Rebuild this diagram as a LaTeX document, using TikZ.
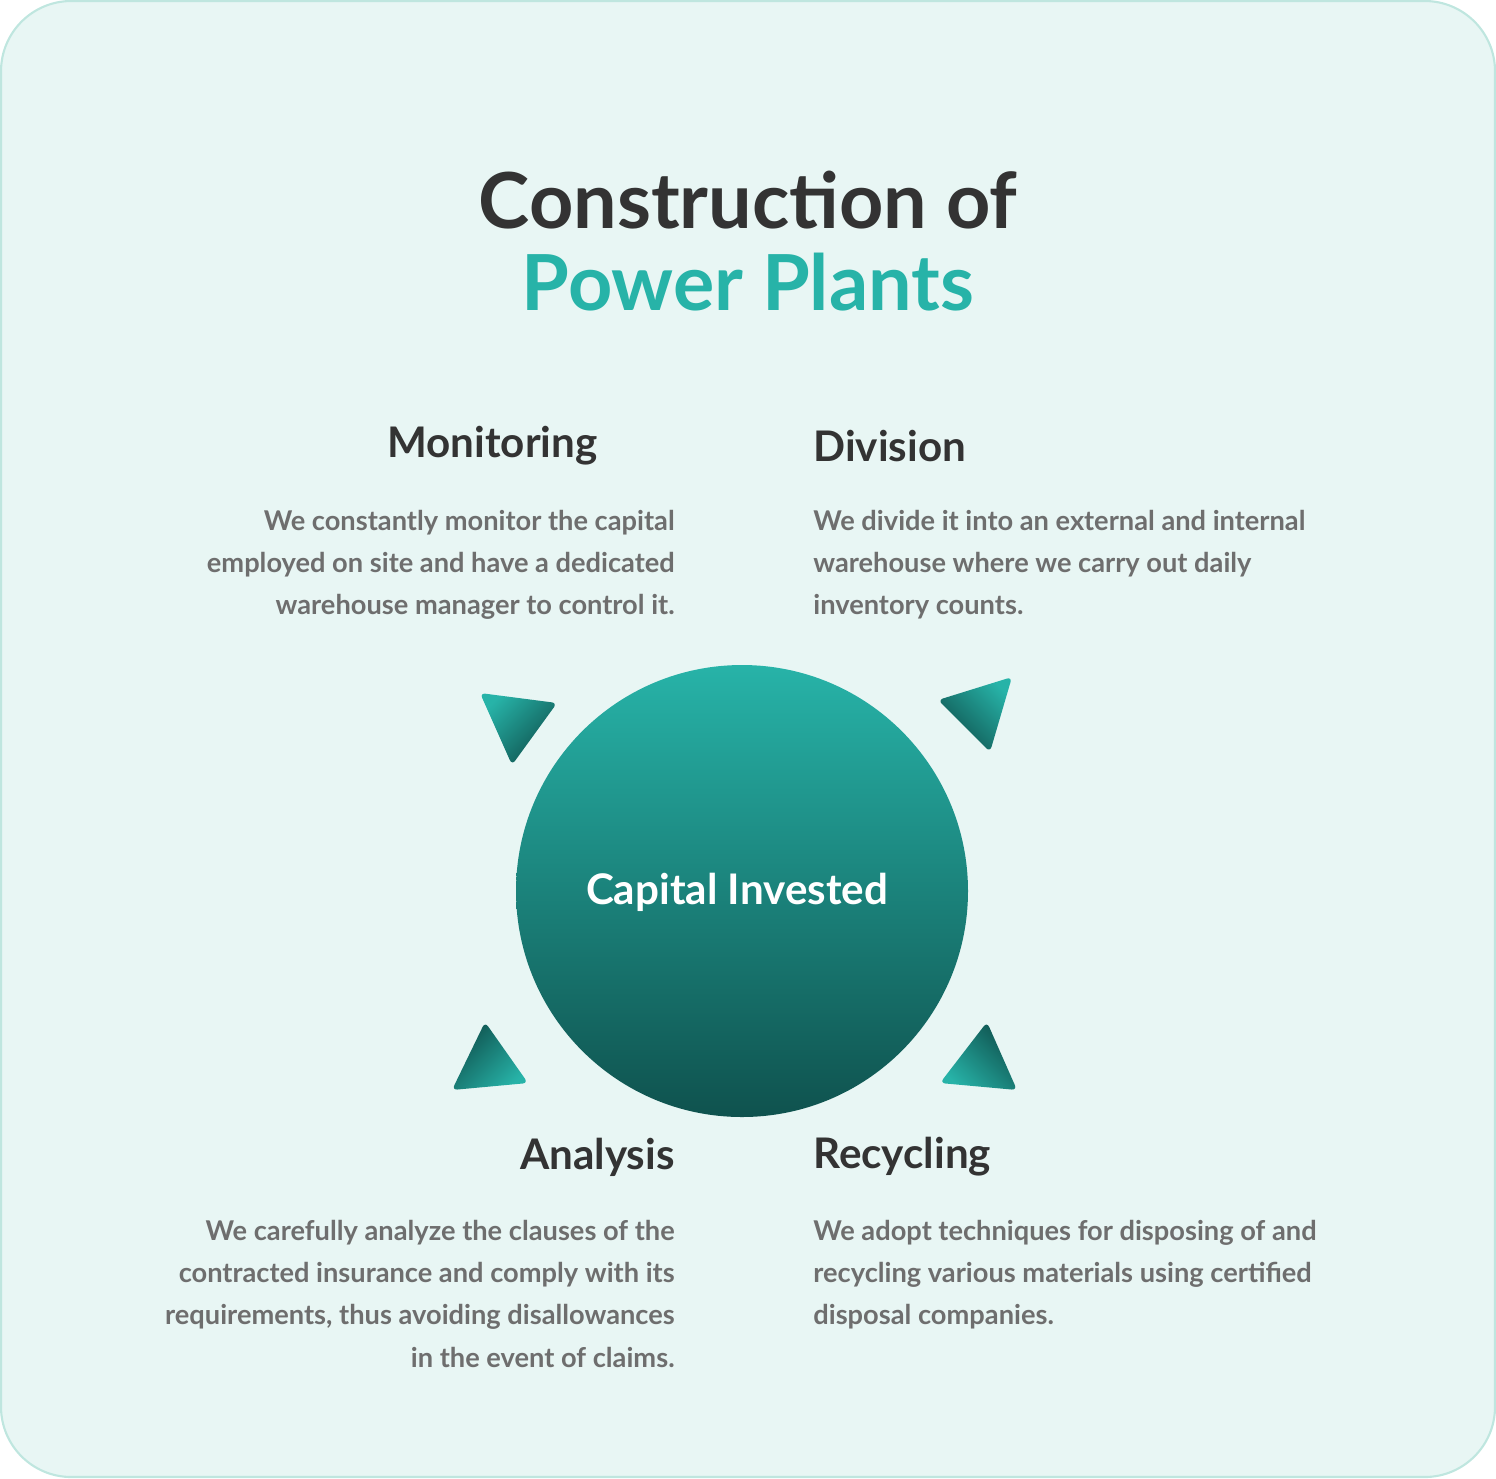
\documentclass[tikz,border=0pt]{standalone}
\usepackage{fontspec}
\setmainfont{Lato}
\usetikzlibrary{shapes.geometric}
\definecolor{bg}{HTML}{E8F6F4}
\definecolor{bd}{HTML}{BFE6DF}
\definecolor{tl}{HTML}{27B3A8}
\definecolor{dk}{HTML}{0F524E}
\definecolor{tx}{HTML}{333333}
\definecolor{gr}{HTML}{6E6E6E}
\tikzset{
 head/.style={font=\fontsize{24}{28}\selectfont\bfseries, text=tx, inner sep=0},
 body/.style={font=\fontsize{15.5}{24}\selectfont\bfseries, text=gr, inner sep=0, align=#1},
 tri/.style={rounded corners=3pt, top color=tl, bottom color=dk, draw=none}
}
\begin{document}
\begin{tikzpicture}[x=0.02cm,y=-0.02cm]
\useasboundingbox (0,0) rectangle (1496,1478);
\draw[bd, fill=bg, line width=1.2pt, rounded corners=40pt] (1,1) rectangle (1495,1477);
\node[inner sep=0, font=\fontsize{44}{50}\selectfont\bfseries, text=tx] (t1) at (748,200) {Construction of};
\node[inner sep=0, font=\fontsize{44}{50}\selectfont\bfseries, text=tl] (t2) at (748,282) {Power Plants};
\node[circle, minimum size=452*0.02cm, shading=axis, top color=tl, bottom color=dk, inner sep=0] (c) at (742,891) {};
\node[text=white, font=\fontsize{24}{28}\selectfont\bfseries, inner sep=0] (ct) at (737,892) {Capital Invested};
\path[tri, shading angle=45] (480,693) -- (557,703) -- (512,765) -- cycle;
\path[tri, shading angle=-45] (1012,677) -- (938,700) -- (990,752) -- cycle;
\path[tri, shading angle=-135] (485,1022) -- (452,1090) -- (528,1083) -- cycle;
\path[tri, shading angle=135] (987,1022) -- (940,1083) -- (1017,1090) -- cycle;
\node[head, anchor=east] (h1) at (598,446) {Monitoring};
\node[head, anchor=west] (h2) at (813,446) {Division};
\node[head, anchor=east] (h3) at (675,1157) {Analysis};
\node[head, anchor=west] (h4) at (813,1157) {Recycling};
\node[body=right, anchor=north east] (b1) at (675,510) {We constantly monitor the capital\\employed on site and have a dedicated\\warehouse manager to control it.};
\node[body=left, anchor=north west] (b2) at (813,510) {We divide it into an external and internal\\warehouse where we carry out daily\\inventory counts.};
\node[body=right, anchor=north east] (b3) at (675,1220) {We carefully analyze the clauses of the\\contracted insurance and comply with its\\requirements, thus avoiding disallowances\\in the event of claims.};
\node[body=left, anchor=north west] (b4) at (813,1220) {We adopt techniques for disposing of and\\recycling various materials using certified\\disposal companies.};
\end{tikzpicture}
\end{document}
